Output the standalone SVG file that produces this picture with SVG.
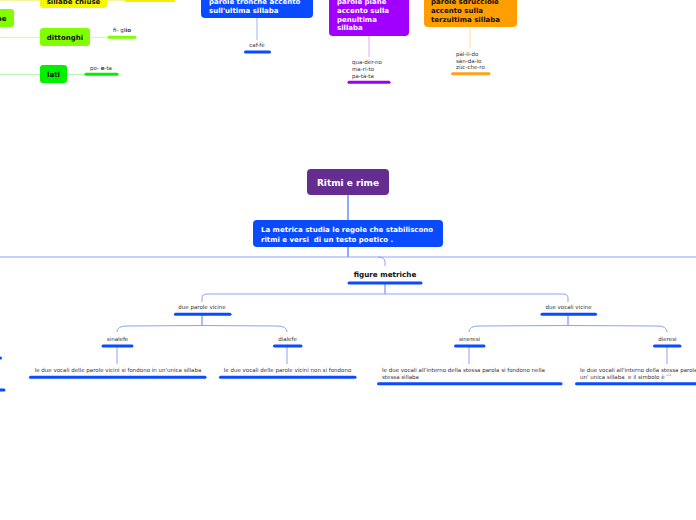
<svg xmlns="http://www.w3.org/2000/svg" width="696" height="520" viewBox="0 0 696 520">
<style>
text{white-space:pre}
.bt{font-family:"DejaVu Sans",Verdana,sans-serif;font-weight:bold;font-size:7px}
.sm{font-family:"DejaVu Sans",Verdana,sans-serif;font-size:5.5px;fill:#333}
.w{fill:#fff}
.k{fill:#111}
.c{stroke:#8aa3f6;stroke-width:1;fill:none}
.cb{stroke:#1f55ff;stroke-width:1;fill:none}
.bar{stroke-width:3;stroke-linecap:round;fill:none}
</style>
<rect width="696" height="520" fill="#fff"/>
<g id="connectors">
  <line class="cb" x1="348" y1="195" x2="348" y2="220"/>
  <line class="cb" x1="348" y1="247" x2="348" y2="257"/>
  <line class="c" x1="0" y1="257" x2="696" y2="257"/>
  <path class="c" d="M378,257 Q385,257 385,262 L385,266"/>
  <line class="cb" x1="385" y1="284" x2="385" y2="294" style="stroke:#5b7ff7"/>
  <path class="c" d="M202,302 L202,298 Q202,294 207,294 L563,294 Q568,294 568,298 L568,302"/>
  <line class="cb" x1="202" y1="315" x2="202" y2="326" style="stroke:#5b7ff7"/>
  <path class="c" d="M117,332 Q117,326 127,326 Q202,325 277,326 Q287,326 287,332"/>
  <line class="c" x1="117" y1="347" x2="117" y2="364"/>
  <line class="c" x1="287" y1="347" x2="287" y2="364"/>
  <line class="cb" x1="568" y1="315" x2="568" y2="326" style="stroke:#5b7ff7"/>
  <path class="c" d="M469,332 Q469,326 479,326 Q568,325 657,326 Q667,326 667,332"/>
  <line class="c" x1="469" y1="347" x2="469" y2="364"/>
  <line class="c" x1="667" y1="347" x2="667" y2="364"/>
  <line x1="257" y1="18" x2="257" y2="40" stroke="#9fb3f2" stroke-width="1"/>
  <line x1="369" y1="36" x2="369" y2="57" stroke="#dcaaff" stroke-width="1"/>
  <line x1="470" y1="27" x2="470" y2="48" stroke="#ffdcaa" stroke-width="1"/>
  <line x1="0" y1="0.5" x2="40" y2="0.5" stroke="#f4f4a0" stroke-width="1"/>
  <line x1="107" y1="0.5" x2="125" y2="0.5" stroke="#f4f4a0" stroke-width="1"/>
  <line x1="0" y1="37.3" x2="40" y2="37.3" stroke="#c6ff8c" stroke-width="1"/>
  <line x1="90" y1="37.3" x2="108" y2="37.3" stroke="#c6ff8c" stroke-width="1"/>
  <line x1="0" y1="74.3" x2="40" y2="74.3" stroke="#a8f5a8" stroke-width="1"/>
  <line x1="67" y1="74.3" x2="85" y2="74.3" stroke="#a8f5a8" stroke-width="1"/>
</g>
<g id="n-sillabe-chiuse">
  <rect x="40" y="-12" width="67" height="20" rx="3" fill="#f7f700"/>
  <text class="bt k" x="73.5" y="3.5" text-anchor="middle">sillabe chiuse</text>
  <line class="bar" x1="126" y1="0.5" x2="174" y2="0.5" stroke="#f0f000"/>
</g>
<g id="n-pe">
  <rect x="-30" y="9" width="44" height="18" rx="3" fill="#80ff00"/>
  <text class="bt k" x="6.5" y="21" text-anchor="end">pe</text>
</g>
<g id="n-dittonghi">
  <rect x="40" y="28" width="50" height="18" rx="3" fill="#80ff00"/>
  <text class="bt k" x="65" y="40" text-anchor="middle">dittonghi</text>
  <text class="sm" x="122" y="32" text-anchor="middle">fi- gl<tspan font-weight="bold">io</tspan></text>
  <line class="bar" x1="109" y1="37.3" x2="135" y2="37.3" stroke="#80ff00"/>
</g>
<g id="n-lati">
  <rect x="40" y="65" width="27" height="18" rx="3" fill="#00f000"/>
  <text class="bt k" x="53.5" y="77" text-anchor="middle">lati</text>
  <text class="sm" x="101" y="70" text-anchor="middle">po- <tspan font-weight="bold">e</tspan>-ta</text>
  <line class="bar" x1="86" y1="74.3" x2="117" y2="74.3" stroke="#00f000"/>
</g>
<g id="n-tronche">
  <rect x="201" y="-12" width="112" height="30" rx="4" fill="#0a4bff"/>
  <text class="bt w" x="209" y="4.2">parole tronche accento</text>
  <text class="bt w" x="209" y="13.2">sull'ultima sillaba</text>
  <text class="sm" x="257" y="46.8" text-anchor="middle">caf-fè</text>
  <line class="bar" x1="245.5" y1="52" x2="269.5" y2="52" stroke="#0a4bff"/>
</g>
<g id="n-piane">
  <rect x="329" y="-12" width="80" height="48" rx="4" fill="#a100ff"/>
  <text class="bt w" x="337" y="4.2">parole piane</text>
  <text class="bt w" x="337" y="13">accento sulla</text>
  <text class="bt w" x="337" y="21.7">penultima</text>
  <text class="bt w" x="337" y="30.3">sillaba</text>
  <text class="sm" x="352" y="64">qua-dèr-no</text>
  <text class="sm" x="352" y="71">ma-ri-to</text>
  <text class="sm" x="352" y="77.5">pa-tà-ta</text>
  <line class="bar" x1="349" y1="82.3" x2="389" y2="82.3" stroke="#9a00ee"/>
</g>
<g id="n-sdrucciole">
  <rect x="424" y="-12" width="93" height="39" rx="4" fill="#ff9e00"/>
  <text class="bt k" x="431" y="4.2">parole sdrucciole</text>
  <text class="bt k" x="431" y="13">accento sulla</text>
  <text class="bt k" x="431" y="21.7">terzultima sillaba</text>
  <text class="sm" x="456" y="56">pàl-li-do</text>
  <text class="sm" x="456" y="62.5">sàn-da-lo</text>
  <text class="sm" x="456" y="69">zùc-che-ro</text>
  <line class="bar" x1="452.5" y1="73.7" x2="489" y2="73.7" stroke="#ffa31a"/>
</g>
<g id="n-root">
  <rect x="307" y="169" width="82" height="26" rx="4" fill="#662d91"/>
  <text class="bt w" x="348" y="186" text-anchor="middle" style="font-size:9px">Ritmi e rime</text>
</g>
<g id="n-metrica">
  <rect x="253" y="220" width="190" height="27" rx="4" fill="#0a4bff"/>
  <text class="bt w" x="261" y="232.2">La metrica studia le regole che stabiliscono</text>
  <text class="bt w" x="261" y="241.6">ritmi e versi  di un testo poetico .</text>
</g>
<g id="n-figure">
  <text class="bt k" x="385" y="276.6" text-anchor="middle" style="font-size:7.2px">figure metriche</text>
  <line class="bar" x1="349" y1="283" x2="421" y2="283" stroke="#0a4bff"/>
</g>
<g id="n-due-parole">
  <text class="sm" x="202" y="308.6" text-anchor="middle">due parole vicine</text>
  <line class="bar" x1="175.5" y1="314.3" x2="230" y2="314.3" stroke="#0a4bff"/>
</g>
<g id="n-sinalefe">
  <text class="sm" x="117.5" y="340.8" text-anchor="middle">sinalefe</text>
  <line class="bar" x1="103" y1="346" x2="132" y2="346" stroke="#0a4bff"/>
  <text class="sm" x="118" y="372" text-anchor="middle">le due vocali delle parole vicini si fondono in un'unica sillaba</text>
  <line class="bar" x1="30.5" y1="377.3" x2="205" y2="377.3" stroke="#0a4bff"/>
</g>
<g id="n-dialefe">
  <text class="sm" x="287.5" y="340.8" text-anchor="middle">dialefe</text>
  <line class="bar" x1="274.5" y1="346" x2="301" y2="346" stroke="#0a4bff"/>
  <text class="sm" x="287.5" y="372" text-anchor="middle">le due vocali delle parole vicini non si fondono</text>
  <line class="bar" x1="220.5" y1="377.3" x2="355" y2="377.3" stroke="#0a4bff"/>
</g>
<g id="n-due-vocali">
  <text class="sm" x="568.5" y="308.6" text-anchor="middle">due vocali vicine</text>
  <line class="bar" x1="542" y1="314.3" x2="595.5" y2="314.3" stroke="#0a4bff"/>
</g>
<g id="n-sineresi">
  <text class="sm" x="469.5" y="340.8" text-anchor="middle">sineresi</text>
  <line class="bar" x1="455.5" y1="346" x2="484" y2="346" stroke="#0a4bff"/>
  <text class="sm" x="382" y="372">le due vocali all'interno della stessa parola si fondono nella</text>
  <text class="sm" x="382" y="379">stessa sillaba</text>
  <line class="bar" x1="378.5" y1="383.7" x2="561" y2="383.7" stroke="#0a4bff"/>
</g>
<g id="n-dieresi">
  <text class="sm" x="667.5" y="340.8" text-anchor="middle">dieresi</text>
  <line class="bar" x1="654.5" y1="346" x2="680" y2="346" stroke="#0a4bff"/>
  <text class="sm" x="580" y="372">le due vocali all'interno della stessa parola</text>
  <text class="sm" x="580" y="379">un' unica sillaba  e il simbolo è ¨¨</text>
  <line class="bar" x1="576.5" y1="383.7" x2="700" y2="383.7" stroke="#0a4bff"/>
</g>
<g id="n-left-a">
  <line class="bar" x1="-3" y1="358" x2="0.5" y2="358" stroke="#0a4bff"/>
</g>
<g id="n-left-b">
  <line class="bar" x1="-3" y1="390" x2="4" y2="390" stroke="#0a4bff"/>
</g>
</svg>
